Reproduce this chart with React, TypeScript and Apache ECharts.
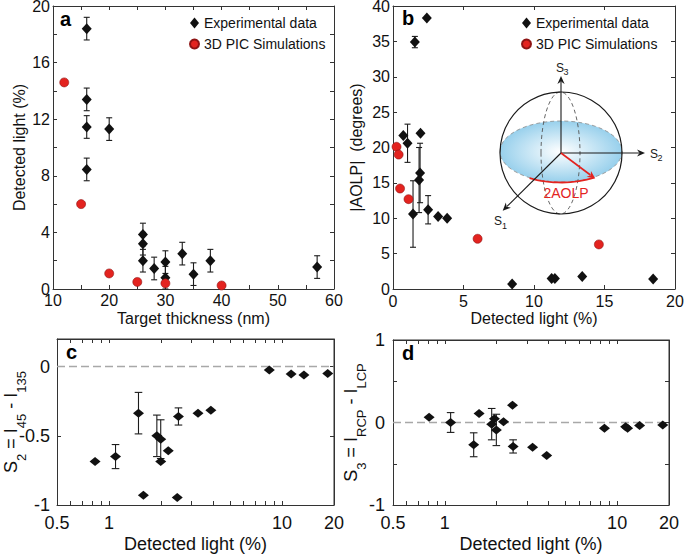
import React, { useEffect, useRef } from 'react';
import * as echarts from 'echarts';

// ---------- data ----------
// panel a: target thickness (nm) vs detected light (%)
const aExpX = [16, 16, 16, 16, 20, 26, 26, 26, 28, 30, 30, 33, 35, 38, 57];
const aExpY = [18.4, 13.4, 11.45, 8.45, 11.3, 3.85, 3.2, 2.0, 1.45, 1.9, 0.8, 2.5, 1.05, 2.0, 1.55];
const aExpErr = [0.8, 0.8, 0.8, 0.8, 0.8, 0.8, 0.8, 0.8, 0.8, 0.8, 0.8, 0.8, 0.8, 0.8, 0.8];
const aSimX = [12, 15, 20, 25, 30, 40];
const aSimY = [14.6, 6.0, 1.1, 0.5, 0.4, 0.25];

// panel b: detected light (%) vs |AOLP| (degrees)
const bExpX = [2.4, 1.55, 0.73, 1.03, 1.95, 1.92, 1.85, 1.42, 2.49, 3.2, 3.84, 8.45, 11.25, 11.48, 13.42, 18.45];
const bExpY = [38.3, 34.9, 21.7, 20.6, 22.0, 16.4, 15.4, 10.6, 11.2, 10.25, 10.0, 0.7, 1.5, 1.5, 1.75, 1.4];
const bExpErr = [0, 0.8, 0, 2.7, 0, 4.2, 4.6, 4.7, 2.0, 0, 0, 0, 0, 0, 0, 0];
const bSimX = [0.25, 0.4, 0.5, 1.1, 6.0, 14.6];
const bSimY = [20.1, 19.0, 14.2, 12.7, 7.1, 6.3];

// panel c: detected light (%) vs S2
const cX = [0.83, 1.09, 1.48, 1.58, 1.89, 1.99, 1.99, 2.2, 2.48, 2.52, 3.27, 3.88, 8.45, 11.3, 13.4, 18.4];
const cY = [-0.685, -0.65, -0.336, -0.93, -0.5, -0.524, -0.685, -0.608, -0.945, -0.36, -0.336, -0.315, -0.024, -0.053, -0.06, -0.05];
const cErr = [0, 0.087, 0.15, 0, 0.15, 0.14, 0, 0, 0, 0.062, 0, 0, 0, 0, 0, 0];

// panel d: detected light (%) vs S3
const dX = [0.81, 1.08, 1.47, 1.58, 1.87, 1.94, 1.99, 2.19, 2.47, 2.49, 3.23, 3.9, 8.44, 11.2, 11.5, 13.5, 18.4];
const dY = [0.065, 0, -0.27, 0.11, -0.02, 0.045, -0.09, 0.01, 0.21, -0.29, -0.3, -0.4, -0.07, -0.05, -0.07, -0.035, -0.03];
const dErr = [0, 0.12, 0.145, 0, 0.19, 0, 0.19, 0, 0, 0.08, 0, 0, 0, 0, 0, 0, 0];

// ticks
const aXTicks = [10, 15, 20, 25, 30, 35, 40, 45, 50, 55, 60];
const aXLabels = [10, 20, 30, 40, 50, 60];
const aYTicks = [0, 2, 4, 6, 8, 10, 12, 14, 16, 18, 20];
const aYLabels = [0, 4, 8, 12, 16, 20];
const bXTicks = [0, 5, 10, 15, 20];
const bYTicks = [0, 5, 10, 15, 20, 25, 30, 35, 40];
const logTicks = [0.6, 0.7, 0.8, 0.9, 1, 2, 3, 4, 5, 6, 7, 8, 9, 10];
const logLabels = [0.5, 1, 10, 20];
const cYTicks = [-1, -0.5, 0];
const dYTicks = [-1, -0.5, 0, 0.5, 1];
const dYLabels = [-1, 0, 1];

const FONT = '"Liberation Sans", Arial, Helvetica, sans-serif';
const AX = '#333333';
const TXT = '#111111';
const RED = '#e3231f';
const RED_EDGE = '#8e1414';
const DIA = '#111111';

const GRIDS = [
  { left: 53, top: 6, width: 281, height: 283 },
  { left: 393, top: 6, width: 282, height: 283 },
  { left: 57, top: 339, width: 277, height: 166 },
  { left: 393, top: 340, width: 276, height: 165 },
];

function zip(xs: number[], ys: number[]) {
  return xs.map((x, i) => [x, ys[i]]);
}
function errData(xs: number[], ys: number[], es: number[]) {
  return xs.map((x, i) => [x, ys[i], es[i]]).filter((d) => d[2] > 0);
}

function mkAxis(o: any) {
  const ax: any = {
    type: o.type,
    gridIndex: o.grid,
    position: o.pos,
    min: o.min,
    max: o.max,
    axisLine: { show: true, onZero: false, lineStyle: { color: AX, width: 1 } },
    axisTick: { show: true, inside: true, length: 4, customValues: o.ticks, lineStyle: { color: AX, width: 1 } },
    axisLabel: o.labels
      ? {
          show: true,
          customValues: o.labels,
          formatter: (v: number) => String(v),
          fontSize: o.fs,
          color: TXT,
          margin: o.margin,
          fontFamily: FONT,
        }
      : { show: false },
    splitLine: { show: false },
    minorTick: { show: false },
    nameMoveOverlap: false,
  };
  if (o.type === 'log') ax.logBase = 10;
  if (o.name) {
    ax.name = o.name;
    ax.nameLocation = 'middle';
    ax.nameGap = o.nameGap;
    ax.nameTextStyle = o.nameStyle || { fontSize: o.fs, color: TXT, fontFamily: FONT };
  }
  return ax;
}

const errRender = (cap: number) => (params: any, api: any) => {
  const x = api.value(0);
  const y = api.value(1);
  const e = api.value(2);
  const p1 = api.coord([x, y + e]);
  const p2 = api.coord([x, y - e]);
  const style = { stroke: '#1c1c1c', lineWidth: 1.1 };
  return {
    type: 'group',
    children: [
      { type: 'line', shape: { x1: p1[0], y1: p1[1], x2: p2[0], y2: p2[1] }, style },
      { type: 'line', shape: { x1: p1[0] - cap, y1: p1[1], x2: p1[0] + cap, y2: p1[1] }, style },
      { type: 'line', shape: { x1: p2[0] - cap, y1: p2[1], x2: p2[0] + cap, y2: p2[1] }, style },
    ],
  };
};

function arrow(x1: number, y1: number, x2: number, y2: number, color: string, w: number) {
  const dx = x2 - x1;
  const dy = y2 - y1;
  const L = Math.hypot(dx, dy);
  const ux = dx / L;
  const uy = dy / L;
  const hl = 8;
  const hw = 3.6;
  const bx = x2 - ux * hl;
  const by = y2 - uy * hl;
  return [
    { type: 'line', z: 100, shape: { x1, y1, x2: bx + ux * 2, y2: by + uy * 2 }, style: { stroke: color, lineWidth: w } },
    {
      type: 'polygon',
      z: 100,
      shape: { points: [[x2, y2], [bx - uy * hw, by + ux * hw], [bx + ux * 2.5, by + uy * 2.5], [bx + uy * hw, by - ux * hw]] },
      style: { fill: color },
    },
  ];
}

function txt(text: string, x: number, y: number, size: number, color: string, align = 'left', bold = false) {
  return {
    type: 'text',
    z: 100,
    x,
    y,
    style: {
      text,
      fill: color,
      font: `${bold ? 'bold ' : ''}${size}px ${FONT}`,
      align,
      verticalAlign: 'middle',
      textAlign: align,
      textVerticalAlign: 'middle',
    },
  };
}

function frameLines(g: any) {
  const x0 = g.left;
  const y0 = g.top;
  const x1 = g.left + g.width;
  const y1 = g.top + g.height;
  const st = { stroke: AX, lineWidth: 1 };
  return [
    { type: 'line', z: 200, silent: true, shape: { x1: x0, y1: y0, x2: x1, y2: y0 }, style: st },
    { type: 'line', z: 200, silent: true, shape: { x1: x1, y1: y0, x2: x1, y2: y1 }, style: st },
  ];
}

function buildGraphics() {
  const cx = 561;
  const cy = 153;
  const R = 61;
  const arc: number[][] = [];
  for (let t = 121; t >= 57; t -= 4) {
    const r = (t * Math.PI) / 180;
    arc.push([cx + 61 * Math.cos(r), 152 + 30.5 * Math.sin(r)]);
  }
  const end = arc[arc.length - 1];
  const els: any[] = [
    ...frameLines(GRIDS[2]),
    ...frameLines(GRIDS[3]),
    {
      type: 'ellipse',
      z: 90,
      shape: { cx, cy: 151.5, rx: 61, ry: 30.5 },
      style: {
        fill: new echarts.graphic.RadialGradient(0.5, 0.5, 0.5, [
          { offset: 0, color: '#ffffff' },
          { offset: 1, color: '#98d0ec' },
        ]),
        stroke: '#8a8a8a',
        lineWidth: 0.8,
        lineDash: [4, 3],
      },
    },
    {
      type: 'ellipse',
      z: 91,
      shape: { cx: 560.5, cy, rx: 19.5, ry: R },
      style: { fill: 'none', stroke: '#555555', lineWidth: 0.9, lineDash: [4, 3] },
    },
    {
      type: 'circle',
      z: 92,
      shape: { cx, cy, r: R },
      style: { fill: 'none', stroke: '#1a1a1a', lineWidth: 1.2 },
    },
    {
      type: 'polyline',
      z: 99,
      shape: { points: arc },
      style: { stroke: RED, lineWidth: 1.8, fill: 'none' },
    },
    ...arrow(cx, cy, cx, 76, '#1a1a1a', 1.1),
    ...arrow(cx, cy, 645, cy, '#1a1a1a', 1.1),
    ...arrow(cx, cy, 502.7, 210.7, '#1a1a1a', 1.1),
    ...arrow(cx, cy, end[0] + 1, end[1] + 1, RED, 1.6),
    txt('S', 556, 68, 12, '#1a1a1a'),
    txt('3', 563.5, 72, 9, '#1a1a1a'),
    txt('S', 650, 154, 12, '#1a1a1a'),
    txt('2', 657.5, 158, 9, '#1a1a1a'),
    txt('S', 494, 221, 12, '#1a1a1a'),
    txt('1', 502, 226, 9, '#1a1a1a'),
    txt('2AOLP', 566, 193, 14, RED, 'center'),
    txt('a', 60, 19, 20, '#000000', 'left', true),
    txt('b', 402, 18, 20, '#000000', 'left', true),
    txt('c', 66, 352, 20, '#000000', 'left', true),
    txt('d', 402, 353, 20, '#000000', 'left', true),
  ];
  return els;
}

function subTitle(parts: string[][]) {
  return parts.map(([m, s]) => `{m|${m}}` + (s ? `{s|${s}}` : '')).join('');
}
const subRich = {
  rich: {
    m: { fontSize: 18, fontFamily: FONT, color: TXT, lineHeight: 20 },
    s: { fontSize: 13, fontFamily: FONT, color: TXT, lineHeight: 13, padding: [20, 0, 0, 0] },
  },
};

function buildOption() {
  const gBase = { containLabel: false, outerBoundsMode: 'none', show: false };
  const grids = GRIDS.map((g) => ({ ...gBase, ...g }));
  const xAxis = [
    mkAxis({ grid: 0, pos: 'bottom', type: 'value', min: 10, max: 60, ticks: aXTicks, labels: aXLabels, fs: 16, margin: 3, name: 'Target thickness (nm)', nameGap: 21 }),
    mkAxis({ grid: 0, pos: 'top', type: 'value', min: 10, max: 60, ticks: aXTicks }),
    mkAxis({ grid: 1, pos: 'bottom', type: 'value', min: 0, max: 20, ticks: bXTicks, labels: bXTicks, fs: 16, margin: 4, name: 'Detected light (%)', nameGap: 21 }),
    mkAxis({ grid: 1, pos: 'top', type: 'value', min: 0, max: 20, ticks: bXTicks }),
    mkAxis({ grid: 2, pos: 'bottom', type: 'log', min: 0.5, max: 20, ticks: logTicks, labels: logLabels, fs: 18, margin: 9, name: 'Detected light (%)', nameGap: 30 }),
    mkAxis({ grid: 2, pos: 'top', type: 'log', min: 0.5, max: 20, ticks: logTicks }),
    mkAxis({ grid: 3, pos: 'bottom', type: 'log', min: 0.5, max: 20, ticks: logTicks, labels: logLabels, fs: 18, margin: 9, name: 'Detected light (%)', nameGap: 30 }),
    mkAxis({ grid: 3, pos: 'top', type: 'log', min: 0.5, max: 20, ticks: logTicks }),
  ];
  const yAxis = [
    mkAxis({ grid: 0, pos: 'left', type: 'value', min: 0, max: 20, ticks: aYTicks, labels: aYLabels, fs: 16, margin: 3, name: 'Detected light (%)', nameGap: 26 }),
    mkAxis({ grid: 0, pos: 'right', type: 'value', min: 0, max: 20, ticks: aYTicks }),
    mkAxis({ grid: 1, pos: 'left', type: 'value', min: 0, max: 40, ticks: bYTicks, labels: bYTicks, fs: 16, margin: 3, name: '|AOLP|  (degrees)', nameGap: 29 }),
    mkAxis({ grid: 1, pos: 'right', type: 'value', min: 0, max: 40, ticks: bYTicks }),
    mkAxis({
      grid: 2, pos: 'left', type: 'value', min: -1, max: 0.2, ticks: cYTicks, labels: cYTicks, fs: 18, margin: 7,
      name: subTitle([['S', '2'], [' = I', '45'], [' - I', '135']]), nameGap: 36, nameStyle: subRich,
    }),
    mkAxis({ grid: 2, pos: 'right', type: 'value', min: -1, max: 0.2, ticks: cYTicks }),
    mkAxis({
      grid: 3, pos: 'left', type: 'value', min: -1, max: 1, ticks: dYTicks, labels: dYLabels, fs: 18, margin: 8,
      name: subTitle([['S', '3'], [' = I', 'RCP'], [' - I', 'LCP']]), nameGap: 32, nameStyle: subRich,
    }),
    mkAxis({ grid: 3, pos: 'right', type: 'value', min: -1, max: 1, ticks: dYTicks }),
  ];

  const expSeries = (gi: number, name: string | undefined, xs: number[], ys: number[], size: number[]) => ({
    type: 'scatter',
    name,
    xAxisIndex: gi * 2,
    yAxisIndex: gi * 2,
    symbol: 'diamond',
    symbolSize: size,
    itemStyle: { color: DIA, opacity: 1 },
    data: zip(xs, ys),
    z: 5,
    silent: true,
  });
  const simSeries = (gi: number, xs: number[], ys: number[]) => ({
    type: 'scatter',
    name: '3D PIC Simulations',
    xAxisIndex: gi * 2,
    yAxisIndex: gi * 2,
    symbol: 'circle',
    symbolSize: 9,
    itemStyle: { color: RED, borderColor: RED_EDGE, borderWidth: 0.6, opacity: 1 },
    data: zip(xs, ys),
    z: 6,
    silent: true,
  });
  const errSeries = (gi: number, xs: number[], ys: number[], es: number[], cap: number) => ({
    type: 'custom',
    xAxisIndex: gi * 2,
    yAxisIndex: gi * 2,
    renderItem: errRender(cap),
    encode: { x: 0, y: 1 },
    data: errData(xs, ys, es),
    z: 3,
    silent: true,
  });
  const zeroLine = () => ({
    silent: true,
    symbol: ['none', 'none'],
    label: { show: false },
    lineStyle: { color: '#a8a8a8', width: 1.4, type: [8, 4] },
    data: [{ yAxis: 0 }],
    z: 1,
  });

  const series: any[] = [
    errSeries(0, aExpX, aExpY, aExpErr, 3),
    expSeries(0, 'Experimental data', aExpX, aExpY, [10, 11]),
    simSeries(0, aSimX, aSimY),
    errSeries(1, bExpX, bExpY, bExpErr, 3),
    expSeries(1, 'Experimental data', bExpX, bExpY, [10, 11]),
    simSeries(1, bSimX, bSimY),
    errSeries(2, cX, cY, cErr, 3.8),
    { ...expSeries(2, 'S2', cX, cY, [11, 9]), markLine: zeroLine() },
    errSeries(3, dX, dY, dErr, 3.8),
    { ...expSeries(3, 'S3', dX, dY, [11, 9]), markLine: zeroLine() },
  ];

  const legendBase = {
    orient: 'vertical',
    selectedMode: false,
    itemWidth: 9,
    itemHeight: 11,
    itemGap: 7,
    textStyle: { fontSize: 14, color: TXT, fontFamily: FONT },
    data: ['Experimental data', '3D PIC Simulations'],
  };

  return {
    animation: false,
    textStyle: { fontFamily: FONT },
    grid: grids,
    xAxis,
    yAxis,
    legend: [
      { ...legendBase, left: 184, top: 11 },
      { ...legendBase, left: 516, top: 11 },
    ],
    graphic: { elements: buildGraphics() },
    series,
  };
}

export default function App() {
  const ref = useRef<HTMLDivElement>(null);
  useEffect(() => {
    document.body.style.margin = '0';
    if (!ref.current) return;
    const chart = echarts.init(ref.current, undefined, { renderer: 'svg' });
    chart.setOption(buildOption() as any);
    return () => chart.dispose();
  }, []);
  return <div ref={ref} style={{ width: 685, height: 559, background: '#ffffff' }} />;
}
